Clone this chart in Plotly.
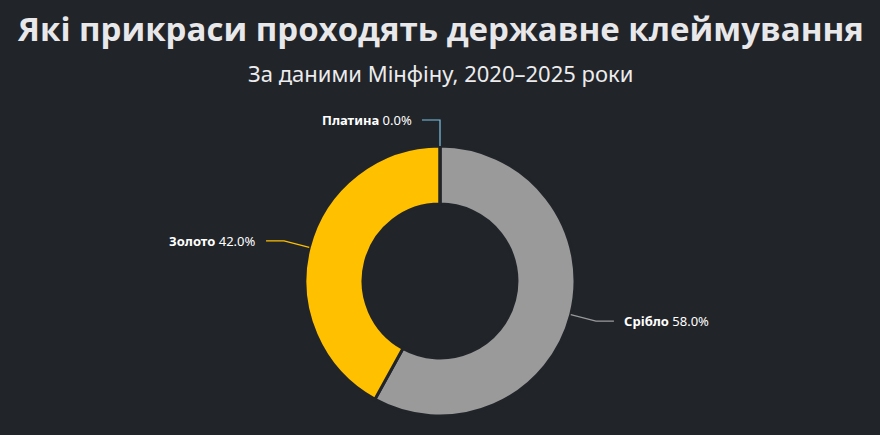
import math
import plotly.graph_objects as go

# ---- data ----
categories = ["Срібло", "Золото", "Платина"]
values = [58.0, 42.0, 0.0]
colors = ["#9a9a9a", "#ffc000", "#7cc3e8"]

title_text = "Які прикраси проходять державне клеймування"
subtitle_text = "За даними Мінфіну, 2020–2025 роки"

W, H = 880, 435
BG = "#212429"

# pie geometry (pixels)
cx, cy, R = 440, 281, 135
hole = 0.57
dom_x = [(cx - R) / W, (cx + R) / W]
dom_y = [(H - cy - R) / H, (H - cy + R) / H]

fig = go.Figure()
fig.add_trace(go.Pie(
    labels=categories,
    values=values,
    sort=False,
    direction="clockwise",
    rotation=0,
    hole=hole,
    marker=dict(colors=colors, line=dict(color=BG, width=3)),
    textinfo="none",
    hoverinfo="label+percent",
    showlegend=False,
    domain=dict(x=dom_x, y=dom_y),
))

# ---- labels with leader lines, derived from the data ----
total = sum(values)
len1, len2, gap = 26, 18, 8
shapes, annotations = [], []
cum = 0.0
for name, v, col in zip(categories, values, colors):
    frac = v / total
    mid = (cum + frac / 2) * 2 * math.pi  # clockwise from top
    cum += frac
    sx, sy = cx + R * math.sin(mid), cy - R * math.cos(mid)
    bx, by = cx + (R + len1) * math.sin(mid), cy - (R + len1) * math.cos(mid)
    right = math.sin(mid) > 1e-6
    ex = bx + (len2 if right else -len2)
    ey = by
    def px(x):
        return x / W
    def py(y):
        return 1 - y / H
    path = f"M {px(sx)},{py(sy)} L {px(bx)},{py(by)} L {px(ex)},{py(ey)}"
    shapes.append(dict(type="path", xref="paper", yref="paper", path=path,
                       line=dict(color=col, width=1.2)))
    tx = ex + (gap if right else -gap)
    annotations.append(dict(
        x=px(tx), y=py(ey), xref="paper", yref="paper",
        xanchor="left" if right else "right", yanchor="middle",
        text=f"<b>{name}</b> {frac*100:.1f}%", showarrow=False,
        font=dict(family="Noto Sans, Open Sans, sans-serif", size=13, color="#ffffff"),
    ))

annotations.append(dict(
    x=0.5, y=1 - 28 / H, xref="paper", yref="paper", xanchor="center", yanchor="middle",
    text=f"<b>{title_text}</b>", showarrow=False,
    font=dict(family="Open Sans, Noto Sans, sans-serif", size=33, color="#e8e8ea"),
))
annotations.append(dict(
    x=0.5, y=1 - 73 / H, xref="paper", yref="paper", xanchor="center", yanchor="middle",
    text=subtitle_text, showarrow=False,
    font=dict(family="Noto Sans, Open Sans, sans-serif", size=22, color="#ececee"),
))

fig.update_layout(
    width=W, height=H,
    margin=dict(l=0, r=0, t=0, b=0),
    paper_bgcolor=BG, plot_bgcolor=BG,
    shapes=shapes, annotations=annotations,
)

fig.write_html("out.html")
